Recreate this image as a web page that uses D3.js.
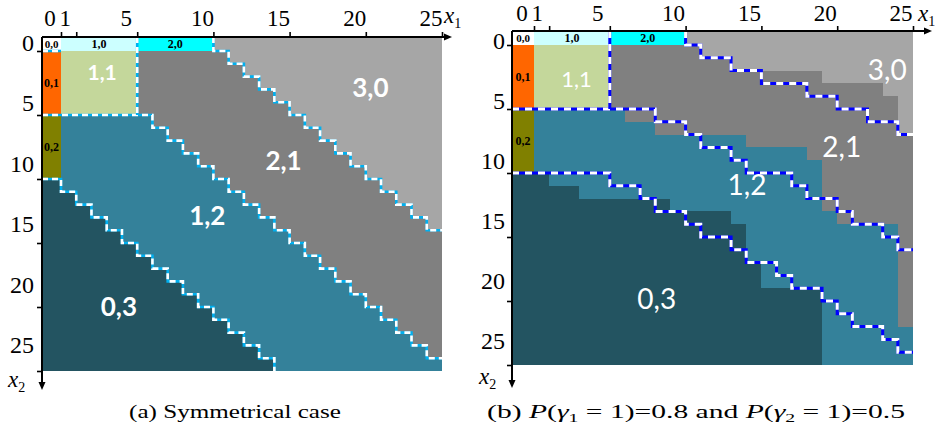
<!DOCTYPE html>
<html>
<head>
<meta charset="utf-8">
<script src="https://cdn.jsdelivr.net/npm/d3@7"></script>
<style>
  body { margin: 0; background: #ffffff; }
  svg { display: block; }
</style>
</head>
<body>
<svg id="fig" width="935" height="434"></svg>
<script>
// ---------- data ----------
// Grid of states: column = x1 (0..25), row = x2 (0..25)
const xTickValues = [0, 1, 5, 10, 15, 20, 25];
const yTickValues = [0, 5, 10, 15, 20, 25];

// Fixed decision blocks in the upper-left corner
const blockKeys = ["0,0", "1,0", "2,0", "0,1", "1,1", "0,2"];
const blockCols = [[0, 0], [1, 5], [6, 10], [0, 0], [1, 5], [0, 0]];
const blockRows = [[0, 0], [0, 0], [0, 0], [1, 5], [1, 5], [6, 10]];

// Last row (per column 0..25) of each staircase region, -1 = region absent
// (a) symmetrical case
const symEnd30 = [-1,-1,-1,-1,-1,-1,-1,-1,-1,-1,-1, 0,1,2,3,4,5,6,7,8,9,10,11,12,13,14];
const symEnd21 = [-1,-1,-1,-1,-1,-1, 5,6,7,8,9,10,11,12,13,14,15,16,17,18,19,20,21,22,23,24];
const symEnd12 = [10,11,12,13,14,15,16,17,18,19,20,21,22,23,24,25,25,25,25,25,25,25,25,25,25,25];
// (b) P(g1=1)=0.8, P(g2=1)=0.5
const asyEnd30 = [-1,-1,-1,-1,-1,-1,-1,-1,-1,-1,-1, 0,1,1,2,2,2,2,2,2,3,3,3,3,4,7];
const asyEnd21 = [-1,-1,-1,-1,-1,-1, 5,6,6,7,7,7,7,7,7,8,8,8,8,9,13,14,14,14,14,22];
const asyEnd12 = [10,10,11,11,12,12,12,12,12,12,13,13,13,13,14,17,19,19,19,19,25,25,25,25,25,25];

// Threshold curves (row of the boundary per column), first column given separately
const symUpperStart = 11, symUpper = [0,1,2,3,4,5,6,7,8,9,10,11,12,13,14];
const symMiddleStart = 0, symMiddle = [5,5,5,5,5,5,5,6,7,8,9,10,11,12,13,14,15,16,17,18,19,20,21,22,23,24];
const symLowerStart = 0, symLower = [10,11,12,13,14,15,16,17,18,19,20,21,22,23,24];
const asyUpperStart = 11, asyUpper = [0,1,1,2,2,3,3,3,4,4,5,5,6,6,7];
const asyMiddleStart = 0, asyMiddle = [5,5,5,5,5,5,5,5,5,6,6,7,8,8,9,10,10,10,11,12,12,13,14,14,15,16];
const asyLowerStart = 0, asyLower = [10,10,10,10,10,10,11,11,12,13,13,14,15,15,16,17,17,18,19,19,20,21,22,22,23,24];

// ---------- styles ----------
const regionColor = {
  "0,0": "#ffffff", "1,0": "#ccffff", "2,0": "#00ffff",
  "0,1": "#ff6600", "1,1": "#c4d79b", "0,2": "#808000",
  "3,0": "#a6a6a6", "2,1": "#808080", "1,2": "#34819a", "0,3": "#235461"
};
const serif = "'Liberation Serif', 'Times New Roman', serif";
const sans = "Lato, 'Open Sans', sans-serif";

// ---------- layout ----------
const panels = [
  {
    xRange: [42, 61, 442], yRange: [37, 51, 371],
    end30: symEnd30, end21: symEnd21, end12: symEnd12,
    lines: [
      { c0: symUpperStart, vals: symUpper, fromTop: true },
      { c0: symMiddleStart, vals: symMiddle },
      { c0: symLowerStart, vals: symLower, toBottom: true }
    ],
    cornerMark: true,
    lineColor: "#00b0f0", dash: "6,4", lineWidth: 2.6,
    bigWeight: 700,
    bigLabels: [
      { t: "1,1", gx: 2.7, gy: 1.7, size: 21 },
      { t: "3,0", gx: 20.3, gy: 2.9, size: 26 },
      { t: "2,1", gx: 14.6, gy: 8.6, size: 26 },
      { t: "1,2", gx: 9.6, gy: 12.9, size: 26 },
      { t: "0,3", gx: 3.8, gy: 20.0, size: 26 }
    ],
    xLabelDx: -11, xLabelBase: 26,
    yLabelRange: [43, 345], yLabelRight: 34,
    arrowRight: 452, arrowBottom: 390,
    x1Label: [444, 23], x2Label: [8, 387],
    caption: { cx: 235, y: 418, width: 212 }
  },
  {
    xRange: [512, 534, 913], yRange: [31, 45, 365],
    end30: asyEnd30, end21: asyEnd21, end12: asyEnd12,
    lines: [
      { c0: asyUpperStart, vals: asyUpper, fromTop: true },
      { c0: asyMiddleStart, vals: asyMiddle },
      { c0: asyLowerStart, vals: asyLower }
    ],
    cornerMark: false,
    lineColor: "#0000ff", dash: "7,6", lineWidth: 3,
    bigWeight: 400,
    bigLabels: [
      { t: "1,1", gx: 2.8, gy: 2.7, size: 22 },
      { t: "3,0", gx: 23.3, gy: 1.95, size: 28 },
      { t: "2,1", gx: 20.3, gy: 8.0, size: 28 },
      { t: "1,2", gx: 14.05, gy: 10.9, size: 28 },
      { t: "0,3", gx: 8.1, gy: 19.8, size: 28 }
    ],
    xLabelDx: -12, xLabelBase: 21,
    yLabelRange: [41, 341], yLabelRight: 505,
    arrowRight: 932, arrowBottom: 388,
    x1Label: [918, 21], x2Label: [479, 384],
    caption: { cx: 696, y: 418, width: 418 }
  }
];

const svg = d3.select("#fig");

function drawPanel(P, idx) {
  const g = svg.append("g");
  const x = d3.scaleLinear().domain([-1, 0, 25]).range(P.xRange);
  const y = d3.scaleLinear().domain([-1, 0, 25]).range(P.yRange);
  const L = x(-1), R = x(25), T = y(-1), B = y(25);

  // whole field starts as region 0,3
  g.append("rect")
    .attr("x", L).attr("y", T).attr("width", R - L).attr("height", B - T)
    .attr("fill", regionColor["0,3"]).attr("shape-rendering", "crispEdges");

  // staircase regions, painted from the bottom layer upward
  [["1,2", P.end12], ["2,1", P.end21], ["3,0", P.end30]].forEach(([key, ends]) => {
    const p = d3.path();
    ends.forEach((e, c) => {
      if (e < 0) return;
      p.rect(x(c - 1), T, x(c) - x(c - 1), y(e) - T);
    });
    g.append("path").attr("d", p.toString())
      .attr("fill", regionColor[key]).attr("shape-rendering", "crispEdges");
  });

  // fixed blocks
  blockKeys.forEach((key, i) => {
    const [c0, c1] = blockCols[i], [r0, r1] = blockRows[i];
    g.append("rect")
      .attr("x", x(c0 - 1)).attr("y", y(r0 - 1))
      .attr("width", x(c1) - x(c0 - 1)).attr("height", y(r1) - y(r0 - 1))
      .attr("fill", regionColor[key]).attr("shape-rendering", "crispEdges");
  });

  // threshold curves
  const line = d3.line();
  const paths = P.lines.map(l => {
    const pts = [];
    if (l.fromTop) pts.push([x(l.c0 - 1), T]);
    l.vals.forEach((v, i) => {
      pts.push([x(l.c0 + i - 1), y(v)]);
      pts.push([x(l.c0 + i), y(v)]);
    });
    if (l.toBottom) pts.push([x(l.c0 + l.vals.length - 1), B]);
    return pts;
  });
  const i11 = blockKeys.indexOf("1,1");
  paths.push([[x(blockCols[i11][1]), T], [x(blockCols[i11][1]), y(blockRows[i11][1])]]);
  if (P.cornerMark) {
    const i00 = blockKeys.indexOf("0,0");
    paths.push([[x(blockCols[i00][0] - 1), y(blockRows[i00][1])], [x(blockCols[i00][1]), y(blockRows[i00][1])]]);
  }
  paths.forEach(pts => {
    g.append("path").attr("d", line(pts)).attr("fill", "none")
      .attr("stroke", P.lineColor).attr("stroke-width", P.lineWidth)
      .attr("stroke-linejoin", "miter");
    g.append("path").attr("d", line(pts)).attr("fill", "none")
      .attr("stroke", "#ffffff").attr("stroke-width", P.lineWidth)
      .attr("stroke-dasharray", P.dash);
  });

  // small block labels
  blockKeys.forEach((key, i) => {
    if (key === "1,1") return;
    const [c0, c1] = blockCols[i], [r0, r1] = blockRows[i];
    g.append("text")
      .attr("x", (x(c0 - 1) + x(c1)) / 2)
      .attr("y", (y(r0 - 1) + y(r1)) / 2)
      .attr("dy", "0.35em")
      .attr("text-anchor", "middle")
      .attr("font-family", serif).attr("font-weight", 700)
      .attr("font-size", key === "0,0" ? 11 : 12)
      .attr("fill", "#000")
      .text(key);
  });

  // big region labels
  P.bigLabels.forEach(b => {
    g.append("text")
      .attr("x", x(b.gx)).attr("y", y(b.gy))
      .attr("dy", "0.36em")
      .attr("text-anchor", "middle")
      .attr("font-family", sans).attr("font-weight", P.bigWeight)
      .attr("font-size", b.size).attr("fill", "#ffffff")
      .text(b.t);
  });

  // axis ticks through d3 axes
  const top = g.append("g").attr("transform", `translate(0,${T})`)
    .call(d3.axisTop(x).tickValues(xTickValues).tickSize(5).tickSizeOuter(0).tickFormat(""));
  const left = g.append("g").attr("transform", `translate(${L},0)`)
    .call(d3.axisLeft(y).tickValues(yTickValues).tickSize(5).tickSizeOuter(0).tickFormat(""));
  [top, left].forEach(a => {
    a.select(".domain").remove();
    a.selectAll(".tick line").attr("stroke", "#000").attr("stroke-width", 1.6);
  });

  // axis lines with arrow heads
  g.append("line").attr("x1", L).attr("x2", P.arrowRight - 4).attr("y1", T).attr("y2", T)
    .attr("stroke", "#000").attr("stroke-width", 2);
  g.append("line").attr("x1", L).attr("x2", L).attr("y1", T).attr("y2", P.arrowBottom - 4)
    .attr("stroke", "#000").attr("stroke-width", 2);
  g.append("path")
    .attr("d", `M${P.arrowRight},${T} l-8,-3.5 l0,7 Z`).attr("fill", "#000");
  g.append("path")
    .attr("d", `M${L},${P.arrowBottom} l-3.5,-8 l7,0 Z`).attr("fill", "#000");

  // tick labels
  xTickValues.forEach(v => {
    g.append("text")
      .attr("x", x(v) + P.xLabelDx).attr("y", P.xLabelBase)
      .attr("text-anchor", "middle")
      .attr("font-family", serif).attr("font-size", 23).attr("fill", "#000")
      .text(v);
  });
  const yl = d3.scaleLinear().domain([0, 25]).range(P.yLabelRange);
  yTickValues.forEach(v => {
    g.append("text")
      .attr("x", P.yLabelRight).attr("y", yl(v)).attr("dy", "0.33em")
      .attr("text-anchor", "end")
      .attr("font-family", serif).attr("font-size", 24).attr("fill", "#000")
      .text(v);
  });

  // axis names
  [[P.x1Label, "1"], [P.x2Label, "2"]].forEach(([pos, sub]) => {
    const t = g.append("text").attr("x", pos[0]).attr("y", pos[1])
      .attr("font-family", serif).attr("font-size", 23).attr("fill", "#000");
    t.append("tspan").attr("font-style", "italic").text("x");
    t.append("tspan").attr("font-size", 14).attr("dy", 5).text(sub);
  });

  // caption
  const cap = g.append("text").attr("x", 0).attr("y", 0)
    .attr("text-anchor", "middle")
    .attr("font-family", serif).attr("font-size", 18).attr("fill", "#000");
  if (idx === 0) {
    cap.text("(a) Symmetrical case");
  } else {
    const parts = [
      ["(b) ", null], ["P", "i"], ["(", null], ["γ", "i"], ["1", "sub"], [" = 1)=0.8 and ", "up"],
      ["P", "i"], ["(", null], ["γ", "i"], ["2", "sub"], [" = 1)=0.5", "up"]
    ];
    parts.forEach(([s, kind]) => {
      const ts = cap.append("tspan").text(s);
      if (kind === "i") ts.attr("font-style", "italic");
      if (kind === "sub") ts.attr("font-size", 12).attr("dy", 4);
      if (kind === "up") ts.attr("dy", -4);
    });
  }
  const w = cap.node().getBBox().width;
  cap.attr("transform", `translate(${P.caption.cx},${P.caption.y}) scale(${P.caption.width / w},1)`);
}

panels.forEach(drawPanel);
</script>
</body>
</html>
